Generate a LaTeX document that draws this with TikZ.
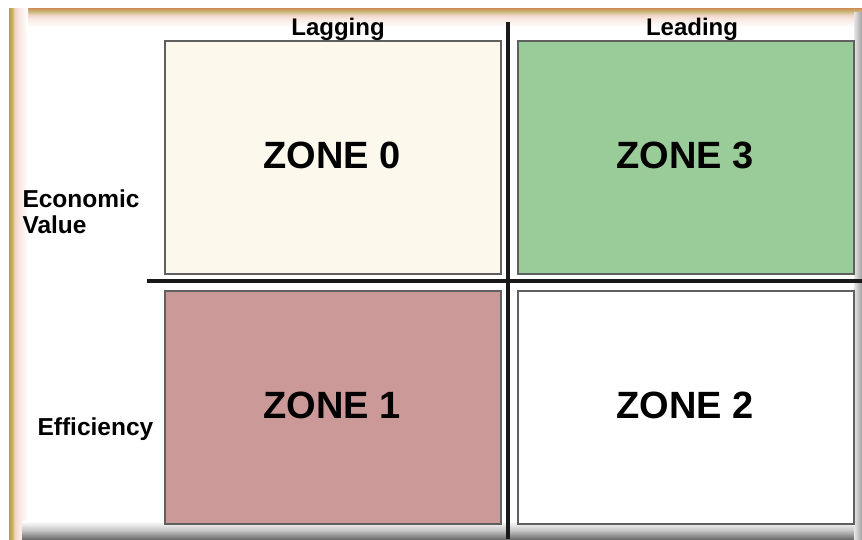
\documentclass[tikz,border=0pt]{standalone}
\usepackage{fontspec}
\setmainfont{Liberation Sans}
\definecolor{fOlive}{RGB}{180,160,70}
\definecolor{fGold}{RGB}{205,175,100}
\definecolor{fTan}{RGB}{205,140,85}
\definecolor{fGreen}{RGB}{200,185,120}
\definecolor{fPink}{RGB}{240,212,200}
\definecolor{fPinkL}{RGB}{248,232,225}
\definecolor{zCream}{RGB}{253,248,236}
\definecolor{zGreen}{RGB}{153,204,153}
\definecolor{zRose}{RGB}{204,153,153}
\pgfdeclarehorizontalshading{leftband}{100bp}{color(0bp)=(fOlive); color(25bp)=(fOlive); color(34bp)=(fGold); color(40bp)=(fPink); color(52bp)=(fPinkL); color(75bp)=(white); color(100bp)=(white)}
\pgfdeclareverticalshading{topband}{100bp}{color(0bp)=(white); color(25bp)=(white); color(47bp)=(fPinkL); color(57bp)=(fPink); color(66bp)=(fGreen); color(75bp)=(fTan); color(100bp)=(fTan)}
\begin{document}
\begin{tikzpicture}[x=1pt,y=-1pt,
  zonebox/.style={draw=gray!75!black, line width=1.6pt, minimum width=336pt, minimum height=233pt, anchor=north west, inner sep=0pt},
  zonetext/.style={font=\fontsize{38}{40}\selectfont\bfseries, anchor=base},
  axislabel/.style={font=\fontsize{24}{26}\selectfont\bfseries, anchor=base},
  sidelabel/.style={font=\fontsize{24.5}{26}\selectfont\bfseries, anchor=base west},
  divider/.style={line width=3.6pt, black!90}]
\useasboundingbox (0,0) rectangle (862,539);
\fill[white] (0,0) rectangle (862,539);
% frame
\shade[shading=topband] (9,8) rectangle (862,27);
\shade[shading=leftband] (9,8) rectangle (28,539);
\shade[top color=white, bottom color={rgb,255:red,110;green,110;blue,110}, middle color={rgb,255:red,200;green,200;blue,200}] (22,521) rectangle (862,539);
\shade[left color={rgb,255:red,230;green,230;blue,230}, right color={rgb,255:red,160;green,160;blue,160}] (854,12) rectangle (862,539);
% zones
\node[zonebox, fill=zCream] (z0) at (164,40) {};
\node[zonebox, fill=zGreen] (z3) at (517,40) {};
\node[zonebox, fill=zRose] (z1) at (164,290) {};
\node[zonebox, fill=white] (z2) at (517,290) {};
% dividers
\coordinate (hl) at (147,281);
\coordinate (hr) at (862,281);
\coordinate (vt) at (508,22);
\coordinate (vb) at (508,539);
\draw[divider] (hl) -- (hr);
\draw[divider] (vt) -- (vb);
% zone labels
\node[zonetext] (t0) at (332,168) {ZONE 0};
\node[zonetext] (t3) at (685,168) {ZONE 3};
\node[zonetext] (t1) at (332,418) {ZONE 1};
\node[zonetext] (t2) at (685,418) {ZONE 2};
% axis labels
\node[axislabel] (lag) at (338,35) {Lagging};
\node[axislabel] (lead) at (692,35) {Leading};
\node[sidelabel] (eco) at (19,207) {Economic};
\node[sidelabel] (val) at (19,233) {Value};
\node[sidelabel] (eff) at (34,435) {Efficiency};
\end{tikzpicture}
\end{document}
